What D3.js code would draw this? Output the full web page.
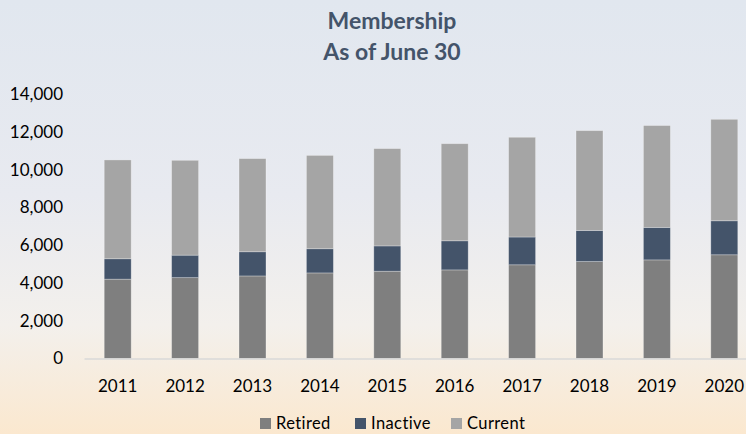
<!DOCTYPE html>
<html>
<head>
<meta charset="utf-8">
<script src="https://cdn.jsdelivr.net/npm/d3@7"></script>
<style>
  body { margin: 0; }
  svg { display: block; font-family: Lato, "Open Sans", sans-serif; }
</style>
</head>
<body>
<div id="chart"></div>
<script>
const years = ["2011", "2012", "2013", "2014", "2015", "2016", "2017", "2018", "2019", "2020"];
const retired  = [4200, 4280, 4370, 4530, 4620, 4690, 4960, 5130, 5220, 5490];
const inactive = [1080, 1190, 1280, 1280, 1340, 1540, 1470, 1650, 1720, 1800];
const current  = [5230, 5020, 4930, 4940, 5150, 5140, 5280, 5280, 5390, 5370];
const seriesNames = ["Retired", "Inactive", "Current"];
const yTicks = [0, 2000, 4000, 6000, 8000, 10000, 12000, 14000];

const width = 746, height = 434;
const margin = { top: 94, bottom: 75.5, left: 84, right: -12 };

const rows = years.map((y, i) => ({ year: y, Retired: retired[i], Inactive: inactive[i], Current: current[i] }));

const svg = d3.select("#chart")
  .append("svg")
    .attr("width", width)
    .attr("height", height);

// background wash
const grad = svg.append("defs").append("linearGradient")
  .attr("id", "bg").attr("x1", 0).attr("y1", 0).attr("x2", 0).attr("y2", 1);
grad.append("stop").attr("offset", "0%").attr("stop-color", "#e1e7ef");
grad.append("stop").attr("offset", "45%").attr("stop-color", "#e8eaf0");
grad.append("stop").attr("offset", "75%").attr("stop-color", "#f3f0ec");
grad.append("stop").attr("offset", "100%").attr("stop-color", "#fbe8cf");
svg.append("rect").attr("width", width).attr("height", height).attr("fill", "url(#bg)");

const x = d3.scaleBand()
  .domain(years)
  .range([margin.left, width - margin.right])
  .paddingInner(0.6)
  .paddingOuter(0.3);

const y = d3.scaleLinear()
  .domain([0, 14000])
  .range([height - margin.bottom, margin.top]);

const color = d3.scaleOrdinal()
  .domain(seriesNames)
  .range(["#7f7f7f", "#44546a", "#a5a5a5"]);

const stacked = d3.stack().keys(seriesNames)(rows);

svg.append("g")
  .selectAll("g")
  .data(stacked)
  .join("g")
    .attr("fill", d => color(d.key))
  .selectAll("rect")
  .data(d => d)
  .join("rect")
    .attr("x", d => x(d.data.year))
    .attr("y", d => y(d[1]))
    .attr("width", x.bandwidth())
    .attr("height", d => y(d[0]) - y(d[1]))
    .attr("stroke", "rgba(255,255,255,0.35)")
    .attr("stroke-width", 0.8);

// y axis (labels only)
const yAxis = svg.append("g")
  .attr("transform", `translate(${margin.left - 18},0)`)
  .call(d3.axisLeft(y).tickValues(yTicks).tickFormat(d3.format(",")).tickSize(0));
yAxis.select(".domain").remove();
yAxis.selectAll("text").attr("font-size", 17).attr("fill", "#000").attr("font-family", "Lato, sans-serif");

// x axis
const xAxis = svg.append("g")
  .attr("transform", `translate(0,${y(0)})`)
  .call(d3.axisBottom(x).tickSize(0).tickPadding(21));
xAxis.select(".domain").attr("stroke", "#d9d9d9").attr("stroke-width", 1.5);
xAxis.selectAll("text").attr("font-size", 17).attr("fill", "#000").attr("font-family", "Lato, sans-serif");

// title
const title = svg.append("text")
  .attr("text-anchor", "middle")
  .attr("font-size", 23)
  .attr("font-weight", "bold")
  .attr("fill", "#44546a");
title.append("tspan").attr("x", 392).attr("y", 29).text("Membership");
title.append("tspan").attr("x", 392).attr("y", 60).text("As of June 30");

// legend
const legendItems = [
  { key: "Retired", x: 260 },
  { key: "Inactive", x: 355 },
  { key: "Current", x: 451 }
];
const legend = svg.append("g")
  .selectAll("g")
  .data(legendItems)
  .join("g")
    .attr("transform", d => `translate(${d.x}, 418)`);
legend.append("rect")
  .attr("width", 11).attr("height", 11)
  .attr("fill", d => color(d.key));
legend.append("text")
  .attr("x", 16).attr("y", 11)
  .attr("font-size", 16.5)
  .attr("letter-spacing", 0.4)
  .attr("fill", "#000")
  .text(d => d.key);
</script>
</body>
</html>
